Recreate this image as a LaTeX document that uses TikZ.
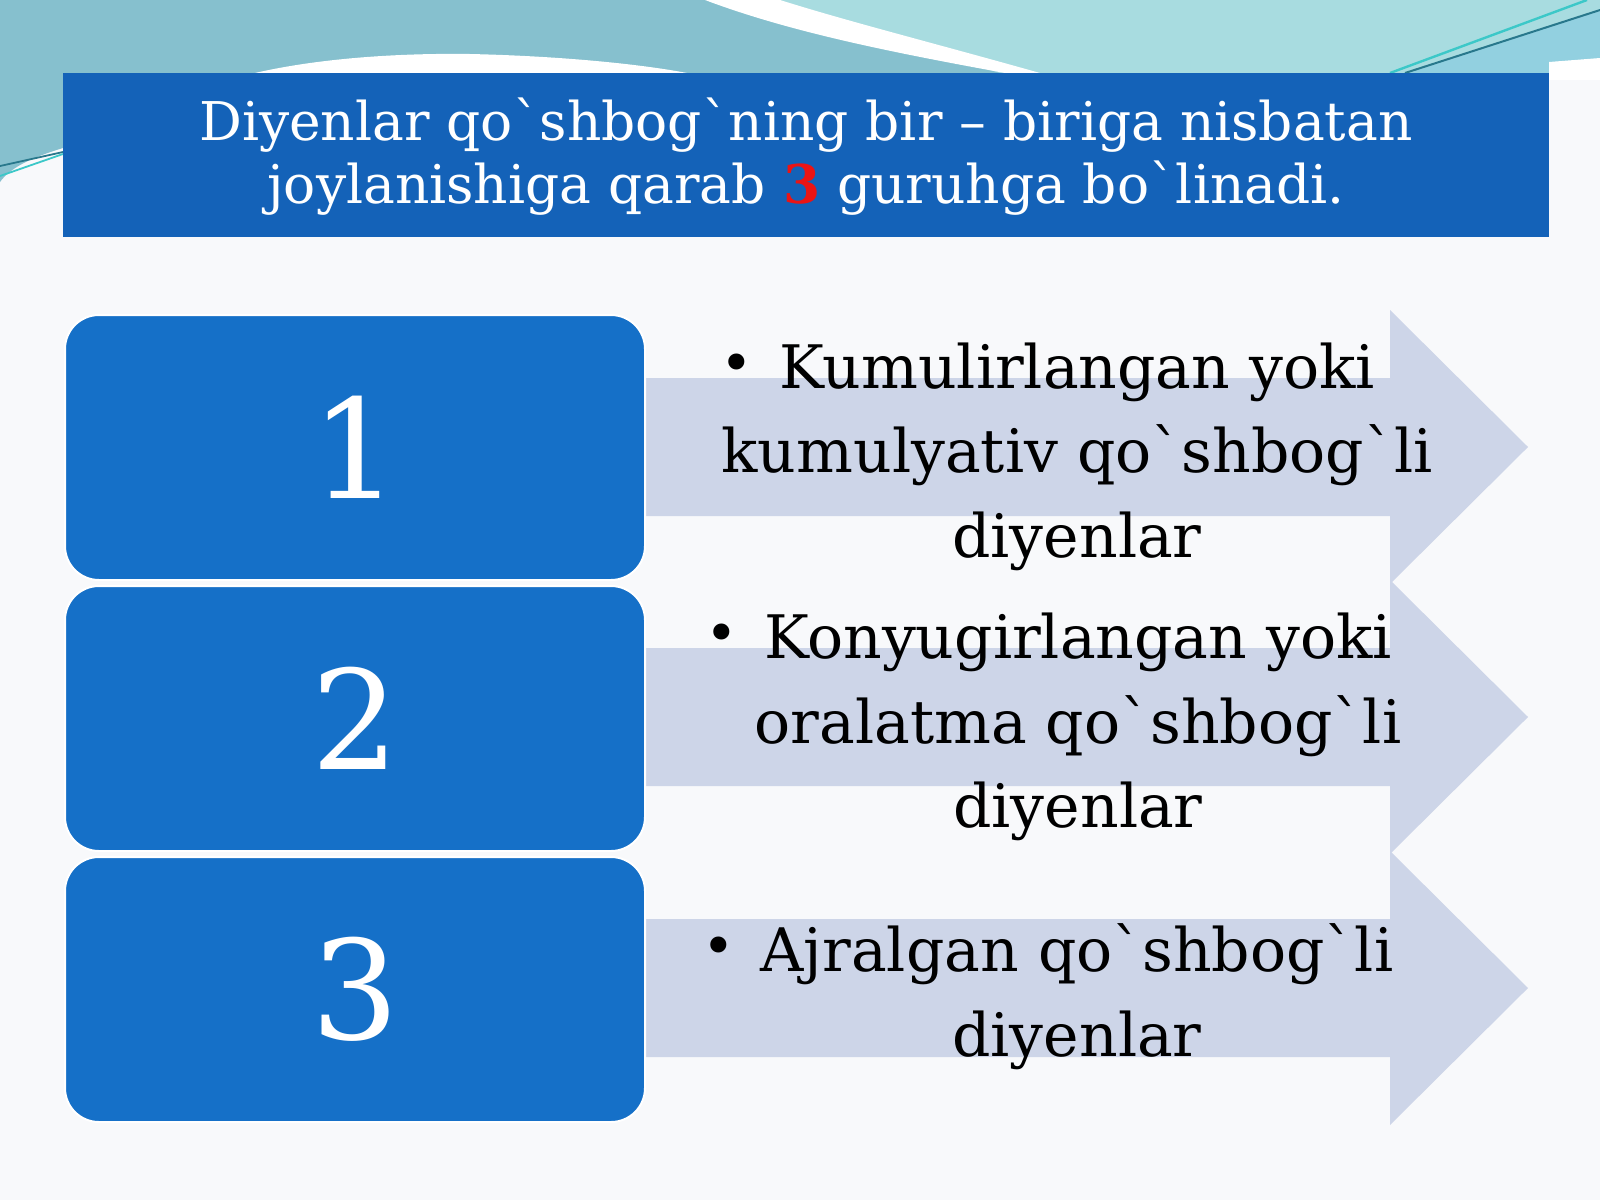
\documentclass[tikz,border=0pt]{standalone}
\usepackage{fontspec}
\setmainfont{DejaVu Serif}
\newcommand\gr{\textasciigrave}
\definecolor{bgc}{RGB}{248,249,251}
\definecolor{headc}{RGB}{20,98,184}
\definecolor{boxc}{RGB}{21,112,200}
\definecolor{arrc}{RGB}{205,213,232}
\definecolor{tealdark}{RGB}{134,192,206}
\definecolor{teallight}{RGB}{168,220,224}
\definecolor{tealband}{RGB}{146,208,224}
\definecolor{linedark}{RGB}{40,120,140}
\definecolor{linecyan}{RGB}{60,200,200}
\definecolor{redc}{RGB}{235,20,20}
\tikzset{
  numbox/.style={fill=boxc, draw=white, line width=1pt, rounded corners=17pt},
  arrowfill/.style={fill=arrc},
  numtext/.style={text=white, font=\fontsize{69}{78}\selectfont, inner sep=0pt},
  headtext/.style={text=white, font=\fontsize{26.7}{32}\selectfont, anchor=base, inner sep=0pt},
  bodytext/.style={text=black, font=\fontsize{30}{36}\selectfont, anchor=base, inner sep=0pt},
}
\newcommand\bul{\llap{\raisebox{0.1em}{\scalebox{0.92}{\textbullet}}\hspace{13pt}}}
\begin{document}
\begin{tikzpicture}[x=0.5pt,y=-0.5pt]
\useasboundingbox (0,0) rectangle (1600,1200);
\fill[bgc] (0,0) rectangle (1600,1200);
% top decoration
\fill[tealdark] (0,0) -- (1000,0) -- (1000,73) -- (63,73) -- (63,148) .. controls (30,158) and (10,168) .. (0,182) -- cycle;
\fill[teallight] (760,0) -- (1600,0) -- (1600,73) -- (1000,73) -- cycle;
\fill[tealband] (1405,73) -- (1600,10) -- (1600,60) -- (1549,62) -- (1549,73) -- cycle;
\fill[white] (1549,62) -- (1600,58) -- (1600,80) -- (1549,80) -- cycle;
\fill[white] (705,0) .. controls (790,32) and (890,52) .. (1005,73) -- (1040,73) .. controls (930,42) and (850,22) .. (780,0) -- cycle;
\fill[white] (255,73) .. controls (320,58) and (400,53) .. (470,54) .. controls (560,56) and (640,64) .. (687,73) -- cycle;
\draw[linecyan, line width=1.2pt] (1390,73) -- (1587,0);
\draw[linedark, line width=1pt] (1405,73) -- (1600,10);
\draw[linedark, line width=0.9pt] (0,166) -- (63,152);
\draw[linecyan, line width=0.9pt] (0,176) -- (63,154);
% header
\fill[headc] (63,73) rectangle (1549,237);
\node[headtext] (h1) at (806,140) {Diyenlar qo\gr shbog\gr ning bir – biriga nisbatan};
\node[headtext] (h2) at (806,203) {joylanishiga qarab {\color{redc}\bfseries 3} guruhga bo\gr linadi.};
% arrows
\foreach \c/\n in {447/a1,717/a2,988/a3}{
  \path[arrowfill] (620,\c-69) -- (1390,\c-69) -- (1390,\c-137) -- (1528,\c) -- (1390,\c+137) -- (1390,\c+69) -- (620,\c+69) -- cycle;
}
% boxes
\node[numbox, minimum width=290pt, minimum height=132.5pt] (b1) at (355,447.5) {};
\node[numbox, minimum width=290pt, minimum height=132.5pt] (b2) at (355,718.5) {};
\node[numbox, minimum width=290pt, minimum height=132.5pt] (b3) at (355,989.5) {};
\node[numtext] (n1) at (b1.center) {1};
\node[numtext] (n2) at (b2.center) {2};
\node[numtext] (n3) at (b3.center) {3};
% body texts
\node[bodytext] (t1a) at (1077,388) {\bul Kumulirlangan yoki};
\node[bodytext] (t1b) at (1077,472) {kumulyativ qo\gr shbog\gr li};
\node[bodytext] (t1c) at (1077,557) {diyenlar};
\node[bodytext] (t2a) at (1078,658) {\bul Konyugirlangan yoki};
\node[bodytext] (t2b) at (1078,743) {oralatma qo\gr shbog\gr li};
\node[bodytext] (t2c) at (1078,827) {diyenlar};
\node[bodytext] (t3a) at (1077,971) {\bul Ajralgan qo\gr shbog\gr li};
\node[bodytext] (t3b) at (1077,1056) {diyenlar};
\end{tikzpicture}
\end{document}
